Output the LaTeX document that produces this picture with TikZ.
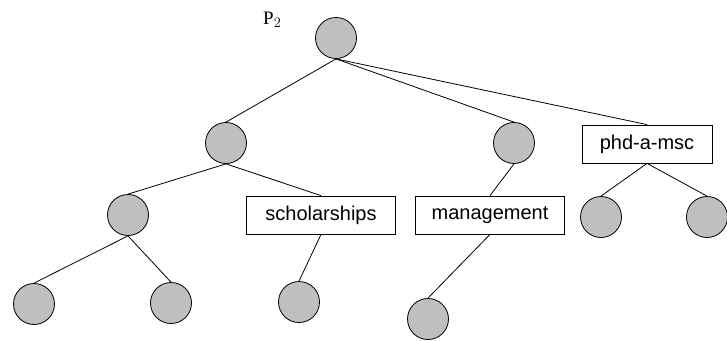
\documentclass[tikz,border=0pt]{standalone}
\usepackage{fontspec}
\setmainfont{Liberation Sans}
\newfontfamily\seriffont{Liberation Serif}
\begin{document}
\begin{tikzpicture}[x=1pt,y=-1pt,
  leaf/.style={circle,draw,fill=black!25,minimum size=41pt,inner sep=0pt,line width=0.8pt},
  tag/.style={rectangle,draw,fill=white,minimum height=38pt,inner xsep=7pt,line width=0.8pt,font=\fontsize{20}{23}\selectfont},
  edge/.style={line width=0.8pt}]
\useasboundingbox (0,0) rectangle (727,340);
% root and its label
\node[leaf] (r) at (336,38) {};
\node[font=\seriffont\fontsize{19}{22}\selectfont,inner sep=0pt,anchor=base west] (p) at (263,24) {P$_2$};
% first level
\node[leaf] (a) at (226,143) {};
\node[leaf] (b) at (514,143) {};
\node[tag,minimum width=130pt] (c) at (647,144) {phd-a-msc};
% second level
\node[leaf] (a1) at (128,215) {};
\node[tag,minimum width=149pt] (a2) at (321,215) {scholarships};
\node[tag,minimum width=149pt] (b1) at (490,215) {management};
\node[leaf] (c1) at (601,217) {};
\node[leaf] (c2) at (707,217) {};
% third level
\node[leaf] (a11) at (34,304) {};
\node[leaf] (a12) at (171,303) {};
\node[leaf] (a21) at (299,302) {};
\node[leaf] (b11) at (428,319) {};
% connectors
\draw[edge] (r.south) -- (a.north);
\draw[edge] (r.south) -- (b.north);
\draw[edge] (r.south) -- (c.north);
\draw[edge] (a.south) -- (a1.north);
\draw[edge] (a.south) -- (a2.north);
\draw[edge] (b.south) -- (b1.north);
\draw[edge] (c.south) -- (c1.north);
\draw[edge] (c.south) -- (c2.north);
\draw[edge] (a1.south) -- (a11.north);
\draw[edge] (a1.south) -- (a12.north);
\draw[edge] (a2.south) -- (a21.north);
\draw[edge] (b1.south) -- (b11.north);
\end{tikzpicture}
\end{document}
